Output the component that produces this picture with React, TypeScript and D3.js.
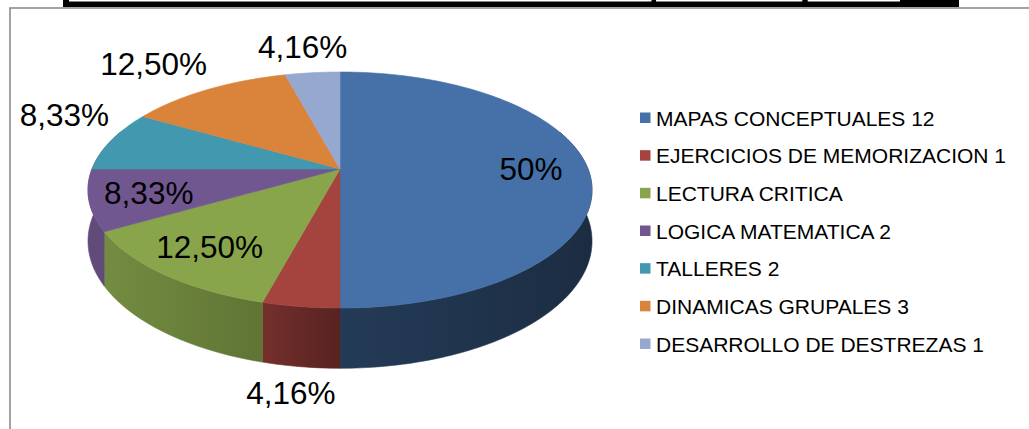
import React, { useEffect, useRef } from 'react';
import * as d3 from 'd3';

const categories = [
  'MAPAS CONCEPTUALES 12',
  'EJERCICIOS DE MEMORIZACION 1',
  'LECTURA CRITICA',
  'LOGICA MATEMATICA 2',
  'TALLERES 2',
  'DINAMICAS GRUPALES 3',
  'DESARROLLO DE DESTREZAS 1',
];
const values = [12, 1, 3, 2, 2, 3, 1];
const pctLabels = ['50%', '4,16%', '12,50%', '8,33%', '8,33%', '12,50%', '4,16%'];
const colors = ['#4571A8', '#A5433F', '#88A54B', '#71578F', '#4298AF', '#DA833B', '#95A8D0'];

const W = 1029;
const H = 429;

// 3d pie geometry (perspective tilt)
const CX = 340;
const CY = 169;
const RX = 248;
const RY = 114.3;
const K = 0.178;
const DEPTH = 49.5;

const proj = (a: number, r: number, z = 0): [number, number] => {
  const u = Math.sin(a) * r;
  const v = -Math.cos(a) * r;
  const w = 1 / (1 - K * v);
  return [CX + RX * u * w, CY + RY * v * w + z * w];
};

const arcPts = (a0: number, a1: number, r: number, z = 0) => {
  const n = Math.max(2, Math.ceil(((a1 - a0) * 180) / Math.PI));
  return d3.range(n + 1).map(i => proj(a0 + ((a1 - a0) * i) / n, r, z));
};

const deg = (d: number) => (d * Math.PI) / 180;

const App: React.FC = () => {
  const svgRef = useRef<SVGSVGElement>(null);

  useEffect(() => {
    if (!svgRef.current) return;
    const svg = d3.select(svgRef.current);
    svg.selectAll('*').remove();

    svg.append('rect').attr('width', W).attr('height', H).attr('fill', '#fff');

    // black table edge at the top
    const top = svg.append('g').attr('fill', '#000');
    top.append('rect').attr('x', 63).attr('y', 1.5).attr('width', 896).attr('height', 5.5);
    [[63, 6], [651.5, 4.5], [802.3, 5.4], [900, 59]].forEach(([x, w]) =>
      top.append('rect').attr('x', x).attr('y', 0).attr('width', w).attr('height', 7)
    );

    // chart frame
    svg.append('rect')
      .attr('x', 10).attr('y', 8)
      .attr('width', 1200).attr('height', 600)
      .attr('fill', 'none')
      .attr('stroke', '#8c8c8c')
      .attr('stroke-width', 1.6);

    const pie = d3.pie<number>().sort(null).value(d => d)(values);
    const line = d3.line();

    const defs = svg.append('defs');
    colors.forEach((c, i) => {
      const g = defs.append('linearGradient')
        .attr('id', `side${i}`)
        .attr('gradientUnits', 'userSpaceOnUse')
        .attr('x1', CX - RX).attr('x2', CX + RX)
        .attr('y1', 0).attr('y2', 0);
      [[0, 0.14], [0.35, 0.3], [0.5, 0.48], [1, 0.6]].forEach(([o, t]) =>
        g.append('stop').attr('offset', o).attr('stop-color', d3.interpolateRgb(c, '#000')(t))
      );
    });

    // side walls (front half, the end slices run a bit past the silhouette)
    pie.forEach((s, i) => {
      let a0 = Math.max(s.startAngle, deg(90));
      let a1 = Math.min(s.endAngle, deg(270));
      if (a1 <= a0) return;
      if (a0 === deg(90)) a0 = deg(70);
      if (a1 === deg(270)) a1 = deg(290);
      const pts = [...arcPts(a0, a1, 1), ...arcPts(a0, a1, 1, DEPTH).reverse()];
      svg.append('path')
        .attr('d', line(pts) + 'Z')
        .attr('fill', `url(#side${i})`)
        .attr('stroke', `url(#side${i})`)
        .attr('stroke-width', 0.6);
    });

    // top faces
    pie.forEach((s, i) => {
      const pts = [proj(0, 0), ...arcPts(s.startAngle, s.endAngle, 1)];
      svg.append('path')
        .attr('d', line(pts) + 'Z')
        .attr('fill', colors[i])
        .attr('stroke', colors[i])
        .attr('stroke-width', 0.6);
    });

    // data labels
    const fs = 31.5;
    const halfH = 15;
    pie.forEach((s, i) => {
      const mid = (s.startAngle + s.endAngle) / 2;
      const frac = values[i] / d3.sum(values);
      const t = svg.append('text')
        .attr('text-anchor', 'middle')
        .style('font-family', '"Liberation Sans", Arial, sans-serif')
        .style('font-size', `${fs}px`)
        .attr('fill', '#000')
        .text(pctLabels[i]);
      const halfW = (t.node() as SVGTextElement).getComputedTextLength() / 2;
      let cx: number, cy: number;
      if (frac >= 0.08 && mid <= Math.PI * 1.5) {
        [cx, cy] = proj(mid, 0.77);
      } else {
        const vy = -Math.cos(mid);
        const ux = Math.sin(mid);
        const [ax, ay] = proj(mid, 1, vy > 0 ? DEPTH : 0);
        const kx = Math.max(-1, Math.min(1, ux * 1.6));
        cx = ax + kx * (halfW + 2);
        cy = ay + Math.sign(vy) * (halfH + 11);
      }
      t.attr('x', cx).attr('y', cy + 11);
    });

    // legend
    const rowY = d3.scalePoint<string>().domain(categories).range([118, 344]);
    const lg = svg.append('g');
    categories.forEach((c, i) => {
      const y = rowY(c)!;
      lg.append('rect')
        .attr('x', 640).attr('y', y - 5.5)
        .attr('width', 10.5).attr('height', 10.5)
        .attr('fill', colors[i]);
      lg.append('text')
        .attr('x', 656).attr('y', y + 7.5)
        .style('font-family', '"Liberation Sans", Arial, sans-serif')
        .style('font-size', '21px')
        .attr('fill', '#000')
        .text(c);
    });
  }, []);

  return (
    <svg
      ref={svgRef}
      width={W}
      height={H}
      style={{ position: 'absolute', left: 0, top: 0 }}
    />
  );
};

export default App;
